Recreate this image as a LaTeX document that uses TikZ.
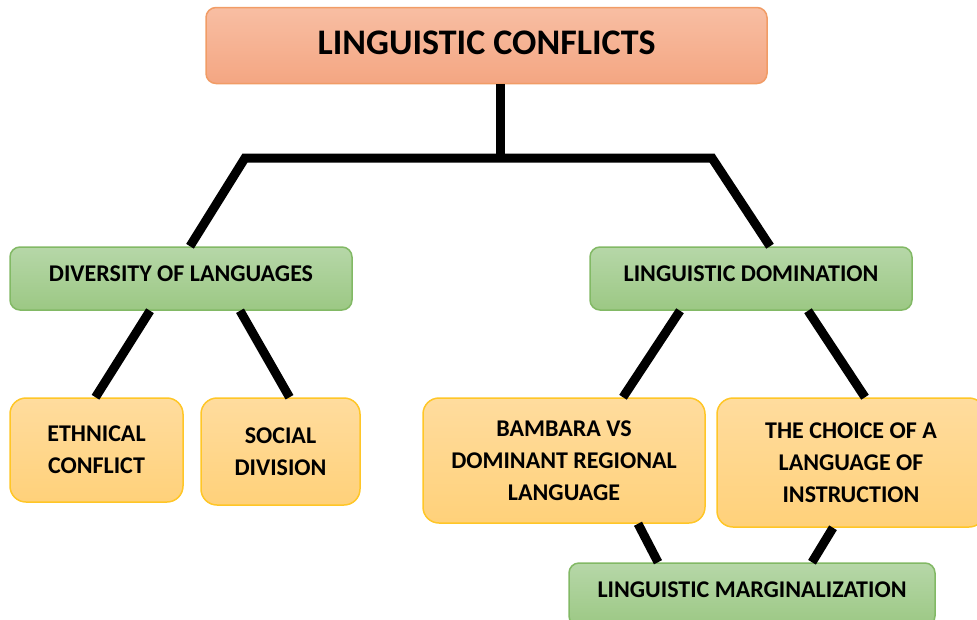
\documentclass[tikz,border=0pt]{standalone}
\usepackage{fontspec}
\setmainfont{Carlito}
\usetikzlibrary{calc}

\definecolor{headtop}{HTML}{F8BEA3}
\definecolor{headbot}{HTML}{F4A682}
\definecolor{headline}{HTML}{F19C66}
\definecolor{grptop}{HTML}{B6D7A8}
\definecolor{grpbot}{HTML}{9CC884}
\definecolor{grpline}{HTML}{82B965}
\definecolor{leaftop}{HTML}{FFDC9E}
\definecolor{leafbot}{HTML}{FFD17A}
\definecolor{leafline}{HTML}{FFC627}

\begin{document}
\begin{tikzpicture}[x=1pt, y=-1pt]
    \tikzstyle{box}=[rounded corners=10pt, line width=1.5pt, align=center, font=\fontsize{24}{32}\selectfont\bfseries]
    \tikzstyle{head}=[box, draw=headline, top color=headtop, bottom color=headbot, text depth=6pt, font=\fontsize{36}{40}\selectfont\bfseries]
    \tikzstyle{grp}=[box, draw=grpline, top color=grptop, bottom color=grpbot, minimum height=63pt, text depth=9pt]
    \tikzstyle{leaf}=[box, rounded corners=16pt, draw=leafline, top color=leaftop, bottom color=leafbot]
    \tikzstyle{link}=[line width=9pt, black]
    \useasboundingbox (0,0) rectangle (977,619);
    \clip (0,0) rectangle (977,619);
    \coordinate (Jl) at (245,158);
    \coordinate (Jm) at (500,158);
    \coordinate (Jr) at (712,158);
    \node[head, minimum width=561pt, minimum height=76pt] (Top) at (486.5,45.5) {LINGUISTIC CONFLICTS};
    \node[grp, minimum width=342pt] (Div) at (181,278.5) {DIVERSITY OF LANGUAGES};
    \node[grp, minimum width=322pt] (Dom) at (751,278.5) {LINGUISTIC DOMINATION};
    \node[leaf, minimum width=173pt, minimum height=104pt] (Eth) at (96.5,450) {ETHNICAL\\CONFLICT};
    \node[leaf, minimum width=159pt, minimum height=107pt] (Soc) at (280.5,451.5) {SOCIAL\\DIVISION};
    \node[leaf, minimum width=282pt, minimum height=125pt] (Bam) at (564,460.5) {BAMBARA VS\\DOMINANT REGIONAL\\LANGUAGE};
    \node[leaf, minimum width=268pt, minimum height=129pt] (Cho) at (851,462.5) {THE CHOICE OF A\\LANGUAGE OF\\INSTRUCTION};
    \node[grp, minimum width=366pt] (Mar) at (752,594.5) {LINGUISTIC MARGINALIZATION};
    \draw[link] (Jm |- Top.south) -- (Jm);
    \draw[link, line join=miter] ([xshift=9pt]Div.north) -- (Jl) -- (Jr) -- ([xshift=19pt]Dom.north);
    \draw[link] ([xshift=-31pt]Div.south) -- ([xshift=-1pt]Eth.north);
    \draw[link] ([xshift=59pt]Div.south) -- ([xshift=9pt]Soc.north);
    \draw[link] ([xshift=-71pt]Dom.south) -- ([xshift=59pt]Bam.north);
    \draw[link] ([xshift=57pt]Dom.south) -- ([xshift=14pt]Cho.north);
    \draw[link] ([xshift=74pt]Bam.south) -- ([xshift=-94pt]Mar.north);
    \draw[link] ([xshift=-18pt]Cho.south) -- ([xshift=60pt]Mar.north);
\end{tikzpicture}
\end{document}
